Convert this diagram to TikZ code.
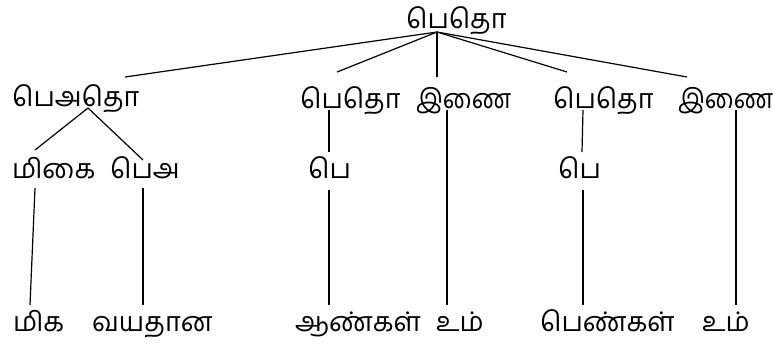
\documentclass[tikz,border=0pt]{standalone}
\usepackage{fontspec}
\newfontfamily\tamil[Script=Tamil]{Hind Madurai}
\newcommand{\narrow}[1]{\scalebox{0.9}[1]{#1}}
\begin{document}
\begin{tikzpicture}[x=1pt,y=-1pt,
  lbl/.style={anchor=base west,inner sep=0pt,font=\tamil\fontsize{27}{29}\selectfont},
  edge/.style={line width=1.2pt}]
\useasboundingbox (0,0) rectangle (773,343);
% nodes
\node[lbl] (root) at (406,28) {பெதொ};
\node[lbl] (pat) at (12,106) {பெஅதொ};
\node[lbl] (ptL) at (300,108) {பெதொ};
\node[lbl] (inL) at (416,108) {\narrow{இணை}};
\node[lbl] (ptR) at (553,108) {பெதொ};
\node[lbl] (inR) at (678,108) {\narrow{இணை}};
\node[lbl] (mikai) at (12,178) {மிகை};
\node[lbl] (pa) at (110,178) {பெஅ};
\node[lbl] (peL) at (308,178) {பெ};
\node[lbl] (peR) at (558,178) {பெ};
\node[lbl] (mika) at (13,331) {மிக};
\node[lbl] (vaya) at (92,331) {வயதான};
\node[lbl] (aan) at (295,331) {ஆண்கள்};
\node[lbl] (umL) at (436,331) {உம்};
\node[lbl] (pen) at (540,331) {பெண்கள்};
\node[lbl] (umR) at (702,331) {உம்};
% connector ends
\coordinate (root-s) at (437,32);
\coordinate (pat-n) at (125,77);
\coordinate (ptL-n) at (337,72);
\coordinate (inL-n) at (437,77);
\coordinate (ptR-n) at (567,72);
\coordinate (inR-n) at (687,77);
\coordinate (pat-s) at (88,108);
\coordinate (mikai-n) at (35,150);
\coordinate (pa-n) at (143,160);
\coordinate (mikai-s) at (35,188);
\coordinate (mika-n) at (30,305);
\coordinate (pa-s) at (143,188);
\coordinate (vaya-n) at (143,305);
\coordinate (ptL-s) at (329,110);
\coordinate (peL-n) at (329,152);
\coordinate (peL-s) at (329,190);
\coordinate (aan-n) at (329,305);
\coordinate (inL-s) at (447,110);
\coordinate (umL-n) at (447,305);
\coordinate (ptR-s) at (583,110);
\coordinate (peR-n) at (582,152);
\coordinate (peR-s) at (583,190);
\coordinate (pen-n) at (583,305);
\coordinate (inR-s) at (736,110);
\coordinate (umR-n) at (736,305);
% connectors
\draw[edge] (root-s) -- (pat-n);
\draw[edge] (root-s) -- (ptL-n);
\draw[edge] (root-s) -- (inL-n);
\draw[edge] (root-s) -- (ptR-n);
\draw[edge] (root-s) -- (inR-n);
\draw[edge] (pat-s) -- (mikai-n);
\draw[edge] (pat-s) -- (pa-n);
\draw[edge] (mikai-s) -- (mika-n);
\draw[edge] (pa-s) -- (vaya-n);
\draw[edge] (ptL-s) -- (peL-n);
\draw[edge] (peL-s) -- (aan-n);
\draw[edge] (inL-s) -- (umL-n);
\draw[edge] (ptR-s) -- (peR-n);
\draw[edge] (peR-s) -- (pen-n);
\draw[edge] (inR-s) -- (umR-n);
\end{tikzpicture}
\end{document}
